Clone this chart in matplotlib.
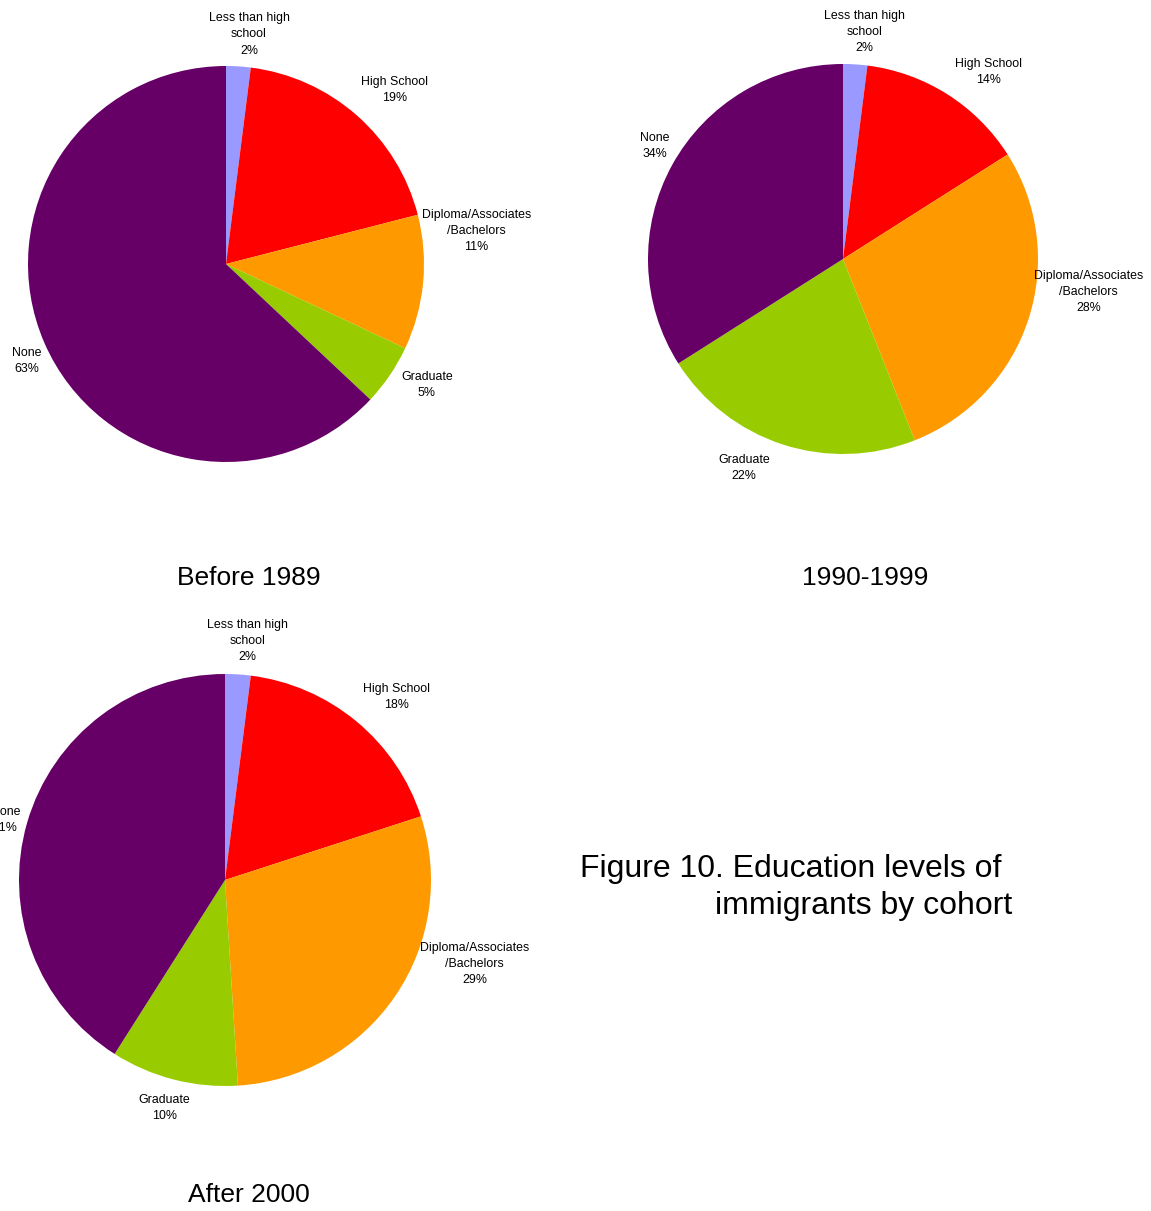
import numpy as np
import matplotlib.pyplot as plt

plt.rcParams['font.family'] = ['Liberation Sans', 'DejaVu Sans']

# data
categories = ["Less than high\nschool", "High School", "Diploma/Associates\n/Bachelors",
              "Graduate", "None"]
before_1989 = [2, 19, 11, 5, 63]
y1990_1999 = [2, 14, 28, 22, 34]
after_2000 = [2, 18, 29, 10, 41]
cohorts = ["Before 1989", "1990-1999", "After 2000"]

colors = ["#9999FF", "#FF0000", "#FF9900", "#99CC00", "#660066"]

W, H = 1151, 1211
fig = plt.figure(figsize=(W / 100, H / 100), dpi=100)
ax = fig.add_axes([0, 0, 1, 1])

# layout in pixel units (y measured from top)
centers = [(226, 264), (843, 259), (225, 880)]
radii = [198, 195, 206]
title_pos = [(249, 578), (865, 578), (249, 1195)]
# hand placement of the data labels, like in the original (dx, dy in pixels, dy down)
label_nudge = [
    [(10, 0), (-2, -4), (-11, -53), (3, -10), (6, 0)],
    [(9, -1), (2, 0), (-4, -52), (-10, 0), (6, 0)],
    [(9, -1), (0, -2), (16, -60), (-7, 4), (3, 0)],
]


def draw_pie(values, center, r, nudges):
    cx, cy = center[0], H - center[1]
    wedges, _ = ax.pie(values, colors=colors, startangle=90, counterclock=False,
                       center=(cx, cy), radius=r, frame=True,
                       wedgeprops=dict(linewidth=0))
    for w, cat, v, (dx, dy) in zip(wedges, categories, values, nudges):
        ang = np.deg2rad((w.theta1 + w.theta2) / 2)
        c, s = np.cos(ang), np.sin(ang)
        x = cx + 1.05 * r * c + dx
        y = cy + 1.05 * r * s - dy
        ha = "left" if c > 0.3 else ("right" if c < -0.3 else "center")
        va = "bottom" if s > 0.3 else ("top" if s < -0.3 else "center")
        ax.text(x, y, f"{cat}\n{v}%", ha=ha, va=va, ma="center",
                fontsize=8.9, linespacing=1.45, color="black")


for vals, cen, r, nd in zip([before_1989, y1990_1999, after_2000], centers, radii, label_nudge):
    draw_pie(vals, cen, r, nd)

for name, (tx, ty) in zip(cohorts, title_pos):
    ax.text(tx, H - ty, name, ha="center", va="center", fontsize=19)

ax.text(580, H - 869, "Figure 10. Education levels of", ha="left", va="center", fontsize=23)
ax.text(715, H - 906, "immigrants by cohort", ha="left", va="center", fontsize=23)

ax.set_xlim(0, W)
ax.set_ylim(0, H)
ax.set_aspect("auto")
ax.axis("off")

fig.savefig("out.png", dpi=100)
